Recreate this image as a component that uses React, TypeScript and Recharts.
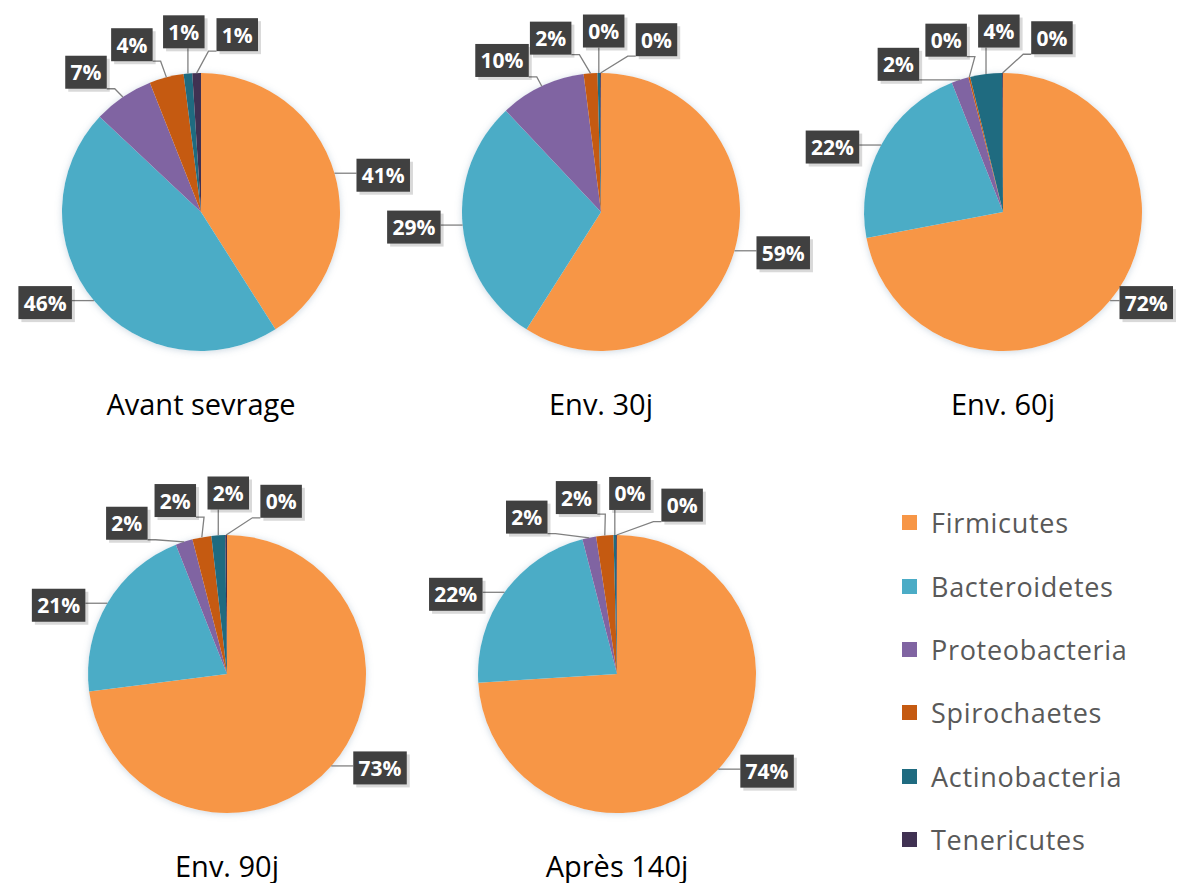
import { PieChart, Pie, Cell, Legend } from "recharts"

const categories = [
  "Firmicutes",
  "Bacteroidetes",
  "Proteobacteria",
  "Spirochaetes",
  "Actinobacteria",
  "Tenericutes",
]
const colors = ["#F79646", "#4BACC6", "#8064A2", "#C55A11", "#1F6B80", "#403152"]

// relative abundance (%) per phylum, same order as categories
const avantSevrage = [41, 46, 7, 4, 1, 1]
const env30j = [59, 29, 10, 1.6, 0.3, 0.1]
const env60j = [72, 22, 2, 0.2, 3.7, 0.1]
const env90j = [73, 21, 2, 2.2, 1.6, 0.2]
const apres140j = [74, 22, 1.6, 2, 0.3, 0.1]

const titles = ["Avant sevrage", "Env. 30j", "Env. 60j", "Env. 90j", "Après 140j"]
const series = [avantSevrage, env30j, env60j, env90j, apres140j]

// where each pie sits on the page
const layout = [
  { cx: 201, cy: 212 },
  { cx: 601, cy: 212 },
  { cx: 1003, cy: 212 },
  { cx: 227, cy: 674 },
  { cx: 617, cy: 674 },
]
const W = 1179
const H = 883
const R = 139
const FONT = "'Open Sans', 'Noto Sans', sans-serif"

// push crowded label angles apart (degrees, clockwise from 12 o'clock)
function spreadOffsets(values: number[], minSep = 17) {
  const total = values.reduce((a, b) => a + b, 0)
  let acc = 0
  const mids = values.map((v) => {
    const m = ((acc + v / 2) / total) * 360
    acc += v
    return m > 180 ? m - 360 : m
  })
  const order = mids.map((_, i) => i).sort((a, b) => mids[a] - mids[b])
  const pos = order.map((i) => mids[i])
  for (let k = 0; k < 300; k++) {
    for (let j = 0; j < pos.length - 1; j++) {
      const gap = pos[j + 1] - pos[j]
      if (gap < minSep) {
        const d = (minSep - gap) / 2
        pos[j] -= d
        pos[j + 1] += d
      }
    }
  }
  const out: number[] = new Array(values.length)
  order.forEach((i, j) => (out[i] = pos[j] - mids[i]))
  return out
}

function makeLabel(offsets: number[]) {
  return (props: any) => {
    const { cx, cy, midAngle, outerRadius, percent, index } = props
    const mid = 90 - midAngle
    const m = (mid * Math.PI) / 180
    const a = ((mid + offsets[index]) * Math.PI) / 180
    const sx = cx + outerRadius * Math.sin(m)
    const sy = cy - outerRadius * Math.cos(m)
    const text = `${Math.round(percent * 100)}%`
    const w = (text.length - 1) * 12 + 18.5 + 11
    const h = 33
    let bx: number
    let by: number
    if (Math.abs(Math.sin(a)) > 0.7) {
      // side labels sit level with the slice edge, pushed outward
      const side = Math.sin(a) > 0 ? 1 : -1
      bx = sx + side * (22 + w / 2)
      by = sy + 2
    } else {
      bx = cx + (outerRadius + 42) * Math.sin(a)
      by = cy - (outerRadius + 42) * Math.cos(a)
    }
    bx = Math.min(Math.max(bx, w / 2 + 6), W - w / 2 - 6)
    const left = bx - w / 2
    const top = by - h / 2
    const ex = Math.min(Math.max(sx, left), left + w)
    const ey = Math.min(Math.max(sy, top), top + h)
    let kx = ex
    let ky = ey
    if (ex === left) kx = ex - 8
    else if (ex === left + w) kx = ex + 8
    else if (ey === top + h) ky = ey + 6
    return (
      <g key={`lbl-${index}`}>
        <polyline
          points={`${sx},${sy} ${kx},${ky} ${ex},${ey}`}
          fill="none"
          stroke="#808080"
          strokeWidth={1.3}
        />
        <rect x={left + 3} y={top + 3} width={w} height={h} fill="#000" opacity={0.15} />
        <rect x={left} y={top} width={w} height={h} fill="#404040" />
        <text
          x={bx}
          y={by}
          textAnchor="middle"
          dominantBaseline="central"
          fill="#fff"
          fontSize={21}
          fontWeight={700}
          fontFamily={FONT}
        >
          {text}
        </text>
      </g>
    )
  }
}

function renderLegend() {
  return (
    <div style={{ fontFamily: FONT }}>
      {categories.map((c, i) => (
        <div
          key={c}
          style={{ display: "flex", alignItems: "center", height: 63.4 }}
        >
          <span
            style={{
              display: "inline-block",
              width: 15,
              height: 15,
              background: colors[i],
              marginRight: 14,
            }}
          />
          <span style={{ fontSize: 27, color: "#595959", letterSpacing: 0.7 }}>{c}</span>
        </div>
      ))}
    </div>
  )
}

export default function App() {
  return (
    <div
      style={{
        position: "absolute",
        left: 0,
        top: 0,
        width: W,
        height: H,
        background: "#fff",
      }}
    >
      {layout.map((l, p) => (
        <div
          key={`glow-${p}`}
          style={{
            position: "absolute",
            left: l.cx - R,
            top: l.cy - R,
            width: 2 * R,
            height: 2 * R,
            borderRadius: "50%",
            boxShadow: "0 1px 7px rgba(110,140,170,0.35)",
          }}
        />
      ))}
      <div style={{ position: "absolute", left: 0, top: 0 }}>
        <PieChart width={W} height={H} margin={{ top: 0, right: 0, left: 0, bottom: 0 }}>
          {series.map((vals, p) => {
            const data = vals.map((v, i) => ({ name: categories[i], value: v }))
            return (
              <Pie
                key={titles[p]}
                data={data}
                dataKey="value"
                nameKey="name"
                cx={layout[p].cx}
                cy={layout[p].cy}
                outerRadius={R}
                startAngle={90}
                endAngle={-270}
                stroke="none"
                labelLine={false}
                label={makeLabel(spreadOffsets(vals))}
                isAnimationActive={false}
              >
                {data.map((d, i) => (
                  <Cell key={d.name} fill={colors[i]} />
                ))}
              </Pie>
            )
          })}
          <Legend
            layout="vertical"
            verticalAlign="top"
            align="right"
            wrapperStyle={{ left: 902, top: 491, width: 270 }}
            content={renderLegend}
          />
        </PieChart>
      </div>
      {titles.map((t, p) => (
        <div
          key={t}
          style={{
            position: "absolute",
            left: layout[p].cx - 150,
            top: layout[p].cy + R + 38,
            width: 300,
            textAlign: "center",
            fontFamily: FONT,
            fontSize: 29,
            lineHeight: "29px",
            color: "#000",
          }}
        >
          {t}
        </div>
      ))}
    </div>
  )
}
